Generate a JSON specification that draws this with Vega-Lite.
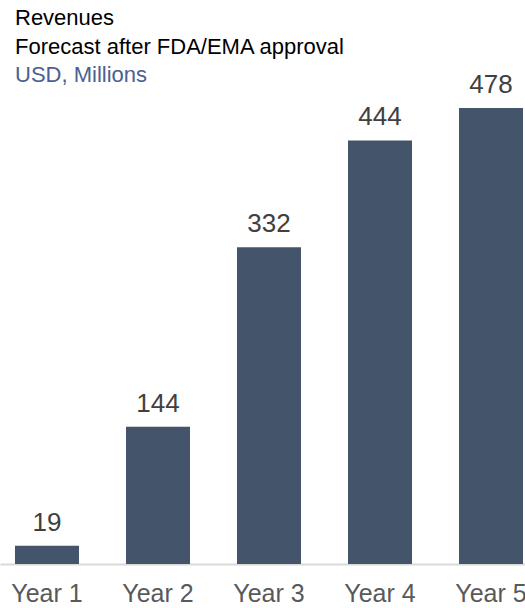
{
  "$schema": "https://vega.github.io/schema/vega-lite/v6.json",
  "autosize": "none",
  "width": 538,
  "height": 456,
  "padding": {"left": 0, "top": 108, "right": 0, "bottom": 44},
  "background": "white",
  "title": {
    "text": ["Revenues", "Forecast after FDA/EMA approval"],
    "subtitle": "USD, Millions",
    "anchor": "start",
    "frame": "group",
    "dx": 15,
    "dy": 15,
    "font": "Liberation Sans",
    "subtitleFont": "Liberation Sans",
    "fontSize": 22,
    "subtitleFontSize": 22,
    "fontWeight": "normal",
    "lineHeight": 29,
    "subtitleLineHeight": 28,
    "subtitlePadding": 6,
    "color": "#000000",
    "subtitleColor": "#4a6190",
    "offset": 0
  },
  "config": {
    "view": {"stroke": null},
    "font": "Liberation Sans"
  },
  "data": {
    "values": [
      {"year": "Year 1", "revenue": 19},
      {"year": "Year 2", "revenue": 144},
      {"year": "Year 3", "revenue": 332},
      {"year": "Year 4", "revenue": 444},
      {"year": "Year 5", "revenue": 478}
    ]
  },
  "encoding": {
    "x": {
      "field": "year",
      "type": "nominal",
      "sort": null,
      "scale": {"paddingInner": 0.4234, "paddingOuter": 0.135},
      "axis": {
        "title": null,
        "labelAngle": 0,
        "labelFontSize": 25,
        "labelColor": "#595959",
        "labelPadding": 17,
        "ticks": false,
        "domainColor": "#d9d9d9",
        "domainWidth": 2,
        "grid": false
      }
    },
    "y": {
      "field": "revenue",
      "type": "quantitative",
      "scale": {"domain": [0, 478], "nice": false},
      "axis": null
    }
  },
  "layer": [
    {"mark": {"type": "bar", "color": "#44546a"}},
    {
      "mark": {"type": "text", "baseline": "alphabetic", "dy": -15, "fontSize": 26, "color": "#404040"},
      "encoding": {"text": {"field": "revenue", "type": "quantitative"}}
    }
  ]
}
